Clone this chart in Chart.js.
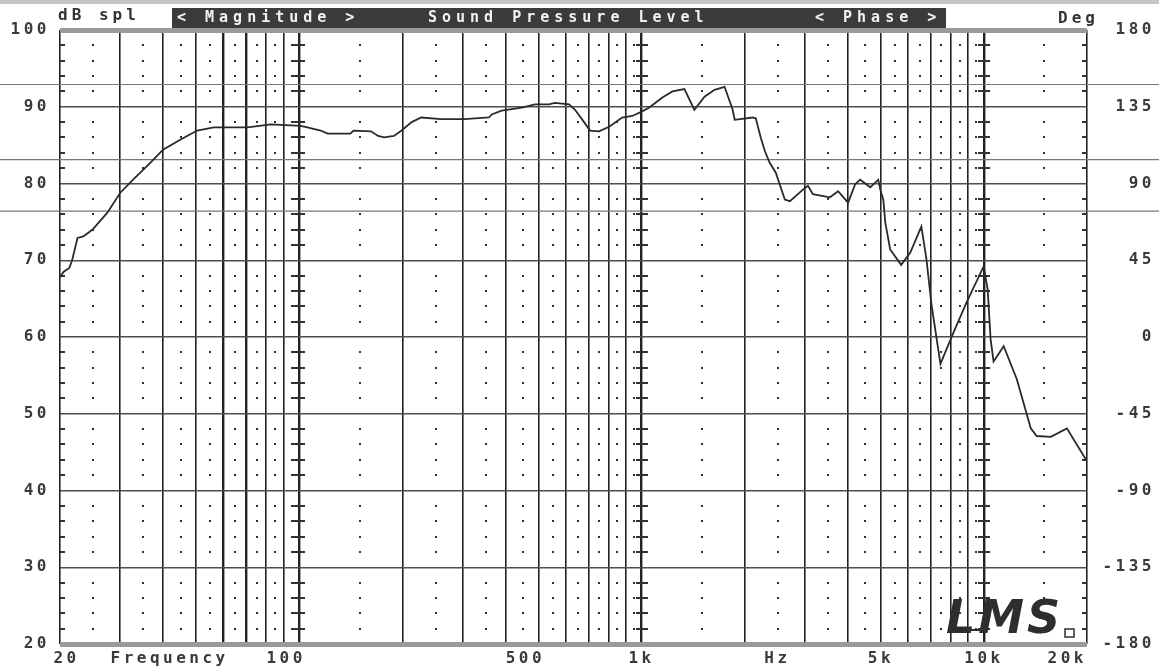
<!DOCTYPE html>
<html>
<head>
<meta charset="utf-8">
<title>Sound Pressure Level</title>
<script src="https://cdn.jsdelivr.net/npm/chart.js@4.4.1/dist/chart.umd.min.js"></script>
<style>
  html, body { margin: 0; padding: 0; background: #fff; }
  #wrap { width: 1159px; height: 671px; }
</style>
</head>
<body>
<div id="wrap"><canvas id="myChart" width="1159" height="671"></canvas></div>
<script>
const freq = [20, 20.5, 21.3, 21.7, 22.5, 23.4, 24.9, 27.5, 30, 32.7, 36.7, 40, 44.9, 50.3, 56.3, 60.9, 70.6, 82.6,
  101, 105.6, 115.4, 121, 141, 144, 162, 170, 177, 189, 199, 213, 227, 260, 304, 358, 365, 390, 447, 488, 536, 558,
  614, 639, 679, 707, 751, 804, 877, 939, 1004, 1053, 1150, 1230, 1334, 1426, 1527, 1633, 1747, 1845, 1870, 2110,
  2155, 2228, 2292, 2367, 2466, 2620, 2711, 2960, 3061, 3165, 3549, 3749, 4010, 4205, 4348, 4655, 4911, 4979, 5082,
  5150, 5323, 5729, 6094, 6564, 6794, 7022, 7463, 8151, 8897, 9980, 10254, 10458, 10670, 11420, 12475, 13700, 14260,
  15680, 17470, 20000];
const spl = [67.8, 68.5, 69.0, 70.0, 72.9, 73.1, 74.0, 76.2, 78.8, 80.5, 82.7, 84.4, 85.7, 86.9, 87.3, 87.3, 87.3, 87.7,
  87.5, 87.3, 86.9, 86.5, 86.5, 86.9, 86.8, 86.2, 86.0, 86.2, 86.9, 88.0, 88.6, 88.4, 88.4, 88.6, 89.0, 89.5, 89.9, 90.3, 90.3, 90.5,
  90.3, 89.6, 88.0, 86.9, 86.8, 87.4, 88.6, 88.8, 89.4, 89.9, 91.2, 92.0, 92.3, 89.6, 91.3, 92.2, 92.6, 89.6, 88.3, 88.6,
  88.5, 86.0, 84.2, 82.7, 81.4, 77.9, 77.7, 79.2, 79.7, 78.6, 78.2, 79.0, 77.5, 79.9, 80.5, 79.5, 80.5, 79.2, 77.9,
  74.9, 71.4, 69.4, 71.0, 74.4, 70.1, 64.3, 56.5, 60.6, 64.5, 69.2, 66.2, 59.7, 56.8, 58.8, 54.5, 48.1, 47.1,
  47.0, 48.1, 43.8];

// grid / tick lists
const xTicks = [20, 30, 40, 50, 60, 70, 80, 90, 100, 200, 300, 400, 500, 600, 700, 800, 900,
  1000, 2000, 3000, 4000, 5000, 6000, 7000, 8000, 9000, 10000, 20000];
const xTickLabels = { 20: ' 20', 40: ' Frequency', 100: '100  ', 500: '500  ', 1000: '1k', 2000: '     Hz',
  5000: '5k', 10000: '10k', 20000: '20k   ' };
const dotFreqs = [25, 35, 45, 55, 65, 75, 85, 95, 150, 250, 350, 450, 550, 650, 750, 850, 950,
  1500, 2500, 3500, 4500, 5500, 6500, 7500, 8500, 9500, 15000];
const decadeFreqs = [100, 1000, 10000];
const scanLinesDb = [92.9, 83.1, 76.4]; // fold marks on the scanned sheet
const headerLabels = ['< Magnitude >', 'Sound Pressure Level', '< Phase >'];

const monoFont = '"DejaVu Sans Mono", "Liberation Mono", monospace';

const decoPlugin = {
  id: 'deco',
  beforeLayout(chart) {
    chart.ctx.letterSpacing = '3.5px';
  },
  beforeDraw(chart) {
    const ctx = chart.ctx;
    ctx.letterSpacing = '3.5px';
    ctx.save();
    ctx.fillStyle = '#c4c4c4';
    ctx.fillRect(0, 0, chart.width, 4);
    ctx.restore();
  },
  beforeDatasetsDraw(chart) {
    const ctx = chart.ctx;
    const xs = chart.scales.x, ys = chart.scales.y;
    const a = chart.chartArea;
    ctx.save();
    // fold lines
    ctx.strokeStyle = '#777';
    ctx.lineWidth = 1.2;
    scanLinesDb.forEach(db => {
      const y = ys.getPixelForValue(db);
      ctx.beginPath();
      ctx.moveTo(0, y);
      ctx.lineTo(chart.width, y);
      ctx.stroke();
    });
    ctx.fillStyle = '#333';
    for (let db = 22; db < 100; db += 2) {
      if (db % 10 === 0) continue;
      const y = Math.round(ys.getPixelForValue(db));
      dotFreqs.forEach(f => {
        const x = Math.round(xs.getPixelForValue(f));
        ctx.fillRect(x - 1, y - 1, 2, 2);
      });
      decadeFreqs.forEach(f => {
        const x = Math.round(xs.getPixelForValue(f));
        ctx.fillRect(x - 6, y - 1, 12, 2);
      });
      ctx.fillRect(a.left, y - 1, 5, 2);
      ctx.fillRect(a.right - 5, y - 1, 5, 2);
    }
    ctx.restore();
  },
  afterDraw(chart) {
    const ctx = chart.ctx;
    const a = chart.chartArea;
    ctx.save();
    // header bar
    ctx.fillStyle = '#3b3b3b';
    ctx.fillRect(172, 8, 774, 20);
    ctx.font = 'bold 15px ' + monoFont;
    ctx.letterSpacing = '5px';
    ctx.textBaseline = 'middle';
    ctx.fillStyle = '#f2f2f2';
    ctx.fillText(headerLabels[0], 177, 18);
    ctx.fillText(headerLabels[1], 428, 18);
    ctx.fillText(headerLabels[2], 815, 18);
    ctx.fillStyle = '#333';
    ctx.font = 'bold 16px ' + monoFont;
    ctx.letterSpacing = '4px';
    ctx.fillText('dB spl', 58, 16);
    ctx.fillText('Deg', 1058, 19);
    // LMS logo
    ctx.letterSpacing = '3px';
    ctx.font = 'italic bold 46px "DejaVu Sans", sans-serif';
    ctx.textBaseline = 'alphabetic';
    ctx.fillStyle = '#2e2e2e';
    ctx.fillText('LMS', 946, a.bottom - 11);
    ctx.fillRect(950, a.bottom - 15, 38, 2);
    ctx.strokeStyle = '#2e2e2e';
    ctx.lineWidth = 1.5;
    ctx.strokeRect(1065, a.bottom - 15, 9, 8);
    ctx.restore();
  }
};

const data = {
  datasets: [{
    label: 'SPL',
    data: freq.map((f, i) => ({ x: f, y: spl[i] })),
    borderColor: '#2a2a2a',
    borderWidth: 1.8,
    pointRadius: 0,
    tension: 0,
    yAxisID: 'y'
  }]
};

const config = {
  type: 'line',
  data: data,
  plugins: [decoPlugin],
  options: {
    responsive: false,
    animation: false,
    layout: { padding: { top: 30, left: 0, right: 4, bottom: 0 } },
    plugins: {
      legend: { display: false },
      tooltip: { enabled: false }
    },
    scales: {
      x: {
        type: 'logarithmic',
        min: 20,
        max: 20000,
        afterBuildTicks: scale => { scale.ticks = xTicks.map(v => ({ value: v })); },
        afterFit: scale => { scale.height = 27; },
        border: { display: false },
        grid: {
          drawTicks: false,
          color: '#222',
          lineWidth: c => ([60, 70, 100, 1000, 10000].includes(c.tick && c.tick.value) ? 2.4 : 1.6)
        },
        ticks: {
          autoSkip: false,
          maxRotation: 0,
          minRotation: 0,
          padding: 5,
          color: '#3a3a3a',
          font: { family: monoFont, size: 16, weight: 'bold' },
          callback: value => xTickLabels[value] || ''
        }
      },
      y: {
        position: 'left',
        min: 20,
        max: 100,
        afterFit: scale => { scale.width = 60; },
        border: { display: false },
        grid: {
          drawTicks: false,
          color: c => ((c.tick.value === 20 || c.tick.value === 100) ? '#9a9a9a' : '#4d4d4d'),
          lineWidth: c => ((c.tick.value === 20 || c.tick.value === 100) ? 5 : 1.5)
        },
        ticks: {
          stepSize: 10,
          padding: 10,
          color: '#3a3a3a',
          font: { family: monoFont, size: 16, weight: 'bold' }
        }
      },
      y2: {
        position: 'right',
        display: true,
        min: -180,
        max: 180,
        afterFit: scale => { scale.width = 1159 - 4 - 1087; },
        border: { display: false },
        grid: { drawOnChartArea: false, drawTicks: false },
        ticks: {
          stepSize: 45,
          crossAlign: 'far',
          padding: 6,
          color: '#3a3a3a',
          font: { family: monoFont, size: 16, weight: 'bold' }
        }
      }
    }
  }
};

const chart = new Chart(document.getElementById('myChart'), config);
</script>
</body>
</html>
